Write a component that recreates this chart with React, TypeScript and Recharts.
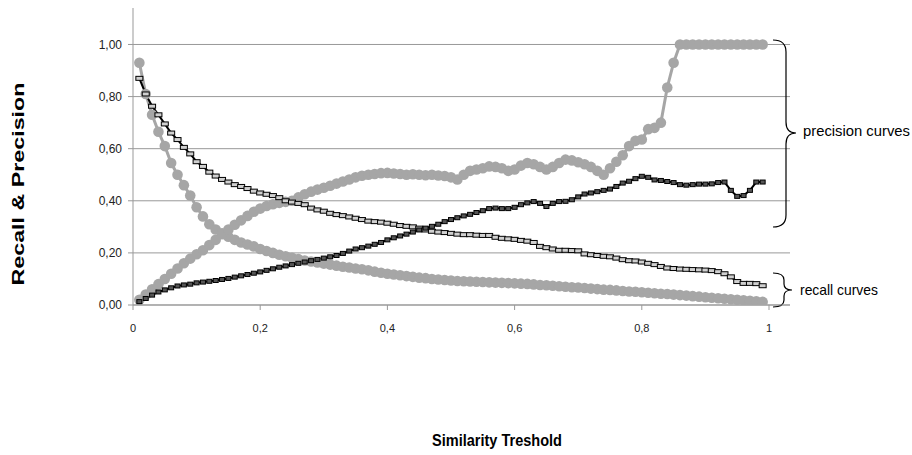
import { LineChart, Line, XAxis, YAxis, CartesianGrid, Customized } from "recharts";

const thresholds = [
  0.01, 0.02, 0.03, 0.04, 0.05, 0.06, 0.07, 0.08, 0.09, 0.1,
  0.11, 0.12, 0.13, 0.14, 0.15, 0.16, 0.17, 0.18, 0.19, 0.2,
  0.21, 0.22, 0.23, 0.24, 0.25, 0.26, 0.27, 0.28, 0.29, 0.3,
  0.31, 0.32, 0.33, 0.34, 0.35, 0.36, 0.37, 0.38, 0.39, 0.4,
  0.41, 0.42, 0.43, 0.44, 0.45, 0.46, 0.47, 0.48, 0.49, 0.5,
  0.51, 0.52, 0.53, 0.54, 0.55, 0.56, 0.57, 0.58, 0.59, 0.6,
  0.61, 0.62, 0.63, 0.64, 0.65, 0.66, 0.67, 0.68, 0.69, 0.7,
  0.71, 0.72, 0.73, 0.74, 0.75, 0.76, 0.77, 0.78, 0.79, 0.8,
  0.81, 0.82, 0.83, 0.84, 0.85, 0.86, 0.87, 0.88, 0.89, 0.9,
  0.91, 0.92, 0.93, 0.94, 0.95, 0.96, 0.97, 0.98, 0.99,
];

// grey curve, falling (recall)
const recallGrey = [
  0.93, 0.81, 0.73, 0.665, 0.61, 0.545, 0.5, 0.46, 0.42, 0.375,
  0.34, 0.31, 0.29, 0.275, 0.262, 0.25, 0.24, 0.232, 0.225, 0.215,
  0.207, 0.2, 0.193, 0.187, 0.181, 0.176, 0.171, 0.167, 0.163, 0.159,
  0.155, 0.151, 0.147, 0.144, 0.14, 0.137, 0.133, 0.128, 0.124, 0.12,
  0.117, 0.114, 0.111, 0.108, 0.105, 0.103, 0.1, 0.098, 0.096, 0.094,
  0.092, 0.091, 0.09, 0.089, 0.088, 0.087, 0.086, 0.085, 0.084, 0.083,
  0.082, 0.081, 0.079, 0.077, 0.076, 0.074, 0.072, 0.07, 0.068, 0.067,
  0.065, 0.063, 0.061, 0.059, 0.058, 0.056, 0.054, 0.052, 0.051, 0.049,
  0.047, 0.045, 0.043, 0.042, 0.04, 0.038, 0.036, 0.034, 0.032, 0.03,
  0.028, 0.026, 0.024, 0.022, 0.02, 0.018, 0.016, 0.014, 0.012,
];

// grey curve, rising (precision)
const precisionGrey = [
  0.02, 0.04, 0.06, 0.08, 0.1, 0.12, 0.14, 0.16, 0.178, 0.195,
  0.21, 0.23, 0.25, 0.272, 0.29, 0.308, 0.325, 0.342, 0.358, 0.37,
  0.38, 0.387, 0.392, 0.396, 0.4, 0.413, 0.425, 0.435, 0.443, 0.45,
  0.458, 0.466, 0.474, 0.482, 0.49, 0.496, 0.5, 0.503, 0.506, 0.507,
  0.505, 0.503, 0.5, 0.502, 0.5, 0.498, 0.5, 0.497, 0.495, 0.49,
  0.482, 0.5, 0.515, 0.52, 0.525, 0.532, 0.53, 0.525, 0.515, 0.52,
  0.535, 0.545, 0.54, 0.53, 0.52, 0.53, 0.545, 0.558, 0.555, 0.548,
  0.54, 0.53, 0.515, 0.5, 0.525, 0.55, 0.575, 0.61, 0.63, 0.635,
  0.675, 0.68, 0.7, 0.835, 0.93, 1, 1, 1, 1, 1,
  1, 1, 1, 1, 1, 1, 1, 1, 1,
];

// black curve, falling (recall)
const recallBlack = [
  0.87, 0.81, 0.763, 0.73, 0.695, 0.66, 0.635, 0.605, 0.58, 0.55,
  0.532, 0.51, 0.495, 0.482, 0.472, 0.462, 0.455, 0.447, 0.437, 0.43,
  0.425, 0.42, 0.412, 0.4, 0.395, 0.39, 0.385, 0.372, 0.365, 0.36,
  0.352, 0.347, 0.343, 0.338, 0.333, 0.328, 0.322, 0.32, 0.318, 0.314,
  0.31, 0.305, 0.302, 0.3, 0.295, 0.288, 0.283, 0.28, 0.278, 0.275,
  0.272, 0.27, 0.27, 0.268, 0.267, 0.267, 0.26, 0.256, 0.254, 0.252,
  0.248, 0.245, 0.24, 0.225, 0.22, 0.215, 0.21, 0.21, 0.209, 0.208,
  0.196, 0.193, 0.19, 0.187, 0.185, 0.18, 0.174, 0.17, 0.169, 0.165,
  0.16, 0.155, 0.148, 0.142, 0.14, 0.138, 0.137, 0.136, 0.135, 0.134,
  0.132, 0.128, 0.12, 0.108, 0.09, 0.083, 0.083, 0.082, 0.074,
];

// black curve, rising (precision)
const precisionBlack = [
  0.013, 0.025, 0.038, 0.05, 0.058, 0.066, 0.073, 0.077, 0.08, 0.085,
  0.088, 0.091, 0.094, 0.098, 0.102, 0.107, 0.112, 0.117, 0.122, 0.127,
  0.133, 0.139, 0.145, 0.15, 0.155, 0.16, 0.165, 0.17, 0.175, 0.18,
  0.185, 0.19, 0.198, 0.207, 0.215, 0.22, 0.226, 0.233, 0.24, 0.25,
  0.258, 0.265, 0.272, 0.28, 0.288, 0.295, 0.302, 0.31, 0.32, 0.328,
  0.335, 0.342, 0.348, 0.355, 0.362, 0.37, 0.372, 0.37, 0.37, 0.375,
  0.385, 0.392, 0.397, 0.39, 0.378, 0.39, 0.397, 0.398, 0.404, 0.415,
  0.426, 0.43, 0.435, 0.44, 0.445, 0.455, 0.468, 0.475, 0.485, 0.494,
  0.49, 0.48, 0.478, 0.474, 0.47, 0.462, 0.46, 0.462, 0.464, 0.464,
  0.465, 0.47, 0.472, 0.44, 0.417, 0.42, 0.44, 0.472, 0.472,
];

const xTicks = [0, 0.2, 0.4, 0.6, 0.8, 1];
const yTicks = [0, 0.2, 0.4, 0.6, 0.8, 1];

const data = thresholds.map((t, i) => ({
  t,
  recallGrey: recallGrey[i],
  precisionGrey: precisionGrey[i],
  recallBlack: recallBlack[i],
  precisionBlack: precisionBlack[i],
}));

const GREY = "#a6a6a6";
const sans = "'Liberation Sans', Arial, sans-serif";

const fmtX = (v: number) => (v === 0 || v === 1 ? String(v) : v.toFixed(1).replace(".", ","));
const fmtY = (v: number) => v.toFixed(2).replace(".", ",");

const GreyDot = (p: any) => <circle key={p.index} cx={p.cx} cy={p.cy} r={5.3} fill={GREY} />;
const RecallMark = (p: any) => (
  <rect key={p.index} x={p.cx - 3.5} y={p.cy - 2} width={7} height={4} fill="#d0d0d0" stroke="#000" strokeWidth={1} />
);
const PrecisionMark = (p: any) => (
  <rect key={p.index} x={p.cx - 2.5} y={p.cy - 2} width={5} height={4} fill="#555" stroke="#000" strokeWidth={1} />
);

function Notes() {
  return (
    <g fill="none" stroke="#000" strokeWidth={1.2}>
      <path d="M 773 40 Q 786 40 786 52 L 786 122 Q 786 133 796 133 Q 786 133 786 144 L 786 215 Q 786 227 773 227" />
      <path d="M 773 273 Q 784 273 784 280 L 784 284 Q 784 290 792 290 Q 784 290 784 296 L 784 300 Q 784 307 773 307" />
      <text x={803} y={136} fill="#000" stroke="none" fontFamily={sans} fontSize={15} textLength={107} lengthAdjust="spacingAndGlyphs">
        precision curves
      </text>
      <text x={800} y={295} fill="#000" stroke="none" fontFamily={sans} fontSize={15} textLength={78} lengthAdjust="spacingAndGlyphs">
        recall curves
      </text>
      <text
        x={24}
        y={184}
        transform="rotate(-90 24 184)"
        textAnchor="middle"
        fill="#000"
        stroke="none"
        fontFamily={sans}
        fontWeight="bold"
        fontSize={17}
        textLength={203}
        lengthAdjust="spacingAndGlyphs"
      >
        Recall &amp; Precision
      </text>
      <text x={497} y={446} textAnchor="middle" fill="#000" stroke="none" fontFamily={sans} fontWeight="bold" fontSize={17} textLength={130} lengthAdjust="spacingAndGlyphs">
        Similarity Treshold
      </text>
    </g>
  );
}

export default function App() {
  return (
    <div style={{ position: "absolute", left: 0, top: 0, background: "#fff" }}>
      <LineChart width={912} height={455} data={data} margin={{ top: 8, right: 122, bottom: 120, left: 73 }}>
        <CartesianGrid vertical={false} stroke="#999" horizontalValues={yTicks} />
        <XAxis
          dataKey="t"
          type="number"
          domain={[0, 1.033]}
          ticks={xTicks}
          tickFormatter={fmtX}
          allowDataOverflow
          height={30}
          stroke="#999"
          tickSize={5}
          tickMargin={14}
          tick={{ fill: "#222", fontFamily: sans, fontSize: 11 }}
        />
        <YAxis
          type="number"
          domain={[0, 1.14]}
          ticks={yTicks}
          tickFormatter={fmtY}
          allowDataOverflow
          width={60}
          stroke="#999"
          tickSize={5}
          tickMargin={6}
          tick={{ fill: "#222", fontFamily: sans, fontSize: 12 }}
        />
        <Line dataKey="recallGrey" stroke={GREY} strokeWidth={3} dot={GreyDot} isAnimationActive={false} />
        <Line dataKey="precisionGrey" stroke={GREY} strokeWidth={3} dot={GreyDot} isAnimationActive={false} />
        <Line dataKey="recallBlack" stroke="#000" strokeWidth={2} dot={RecallMark} isAnimationActive={false} />
        <Line dataKey="precisionBlack" stroke="#000" strokeWidth={2} dot={PrecisionMark} isAnimationActive={false} />
        <Customized component={Notes} />
      </LineChart>
    </div>
  );
}
